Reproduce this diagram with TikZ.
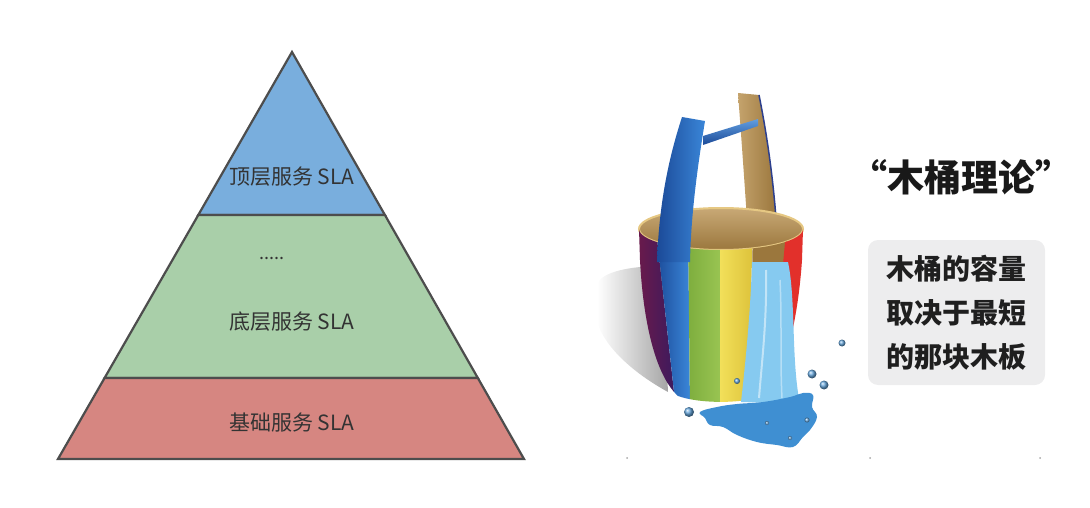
\documentclass[tikz,border=0pt]{standalone}
\usepackage{fontspec}
\newfontfamily\cjk{Noto Sans CJK SC}
\usetikzlibrary{calc}
\definecolor{topblue}{HTML}{79AEDD}
\definecolor{midgreen}{HTML}{A9CFA9}
\definecolor{basered}{HTML}{D68681}
\definecolor{edgegray}{HTML}{4D4D4D}
\definecolor{labelgray}{HTML}{333333}
\definecolor{boxgray}{HTML}{EDEDEE}
\definecolor{woodtan}{HTML}{B68C48}
\definecolor{woodlight}{HTML}{E6C883}
\definecolor{woodedge}{HTML}{2C3F8E}
\definecolor{waterlight}{HTML}{86CAF0}
\definecolor{waterblue}{HTML}{3F8FD2}
\definecolor{stavered}{HTML}{E2302B}
\definecolor{purpleleft}{HTML}{7A1A45}
\definecolor{purpleright}{HTML}{3B1A5E}
\definecolor{blueleft}{HTML}{1B4A98}
\definecolor{blueright}{HTML}{3A86D8}
\definecolor{greenleft}{HTML}{7EAE3E}
\definecolor{greenright}{HTML}{99C452}
\definecolor{yellowleft}{HTML}{F2E05A}
\definecolor{yellowright}{HTML}{DDC23A}
\begin{document}
\begin{tikzpicture}[x=1pt,y=-1pt,
    layer/.style={draw=edgegray,line width=2.2pt},
    lbl/.style={font=\cjk\fontsize{21}{21}\selectfont,text=labelgray},
    bubble/.style={ball color=waterblue!80}]
    \useasboundingbox (0,0) rectangle (1090,508);
    % pyramid
    \coordinate (apex) at (292,52);
    \coordinate (bl) at (58,459);
    \coordinate (br) at (524,459);
    \coordinate (l1) at ($(apex)!0.4005!(bl)$);
    \coordinate (r1) at ($(apex)!0.4005!(br)$);
    \coordinate (l2) at ($(apex)!0.801!(bl)$);
    \coordinate (r2) at ($(apex)!0.801!(br)$);
    \draw[layer,fill=topblue] (apex) -- (r1) -- (l1) -- cycle;
    \draw[layer,fill=midgreen] (l1) -- (r1) -- (r2) -- (l2) -- cycle;
    \draw[layer,fill=basered] (l2) -- (r2) -- (br) -- (bl) -- cycle;
    \node[lbl] (toplbl) at (292,177) {顶层服务 SLA};
    \node[lbl,font=\cjk\fontsize{18}{18}\selectfont] (dots) at (272,258) {.....};
    \node[lbl] (midlbl) at (292,322) {底层服务 SLA};
    \node[lbl] (baselbl) at (292,423) {基础服务 SLA};
    % bucket
    \shade[left color=white,right color=black!35]
        (662,266) .. controls (630,266) and (600,272) .. (597,285) -- (597,322)
        .. controls (605,348) and (635,374) .. (668,392) -- cycle;
    \shade[left color=woodtan!80!white,right color=woodtan!85!black]
        (738,93) -- (759,95) .. controls (768,140) and (773,180) .. (776,220)
        -- (747,220) .. controls (743,160) and (740,120) .. (738,93) -- cycle;
    \draw[woodedge,line width=1.5pt] (759,95) .. controls (768,140) and (773,180) .. (776,218);
    \shade[top color=woodtan!75!white,bottom color=woodtan!85!black,draw=woodlight,line width=2pt]
        (721,229) ellipse [x radius=82,y radius=21];
    \begin{scope}
        \clip (639,229) .. controls (639,240.6) and (675.7,250) .. (721,250)
            .. controls (766.3,250) and (803,240.6) .. (803,229) -- (802,260)
            .. controls (798,320) and (785,375) .. (765,395)
            .. controls (745,404) and (700,404) .. (678,396)
            .. controls (655,375) and (643,320) .. (640,260) -- cycle;
        \shade[left color=purpleleft,right color=purpleright]
            (625,220) -- (655,220) -- (676,410) -- (625,410) -- cycle;
        \shade[left color=blueleft,right color=blueright]
            (655,220) -- (688,220) -- (690,410) -- (676,410) -- cycle;
        \shade[left color=greenleft,right color=greenright]
            (688,220) -- (720,220) -- (720,410) -- (690,410) -- cycle;
        \shade[left color=yellowleft,right color=yellowright]
            (720,220) -- (753,220) -- (748,410) -- (720,410) -- cycle;
        \fill[woodtan!85!black] (753,220) -- (787,220) -- (787,280) -- (752,280) -- cycle;
        \fill[stavered] (787,220) -- (815,220) -- (815,410) -- (770,410) -- cycle;
    \end{scope}
    \shade[top color=blueright!80!white,bottom color=blueleft]
        (703,136) -- (758,119) -- (758,126) -- (703,145) -- cycle;
    \shade[left color=blueleft,right color=blueright]
        (682,117) -- (705,121) .. controls (697,170) and (691,215) .. (690,262)
        -- (657,262) .. controls (659,205) and (668,160) .. (682,117) -- cycle;
    % water
    \fill[waterlight] (752,262) .. controls (751,300) and (747,350) .. (741,402)
        -- (800,404) .. controls (791,360) and (796,300) .. (788,262) -- cycle;
    \draw[white,opacity=0.5,line width=2pt] (766,270) .. controls (767,320) and (762,360) .. (759,398);
    \draw[white,opacity=0.4,line width=1.5pt] (780,280) .. controls (782,320) and (780,360) .. (782,398);
    \fill[waterblue] plot[smooth cycle,tension=0.7] coordinates {(700,412) (717,407) (737,404)
        (763,402) (790,397) (803,393) (813,395) (812,407) (817,417) (810,430) (803,437)
        (793,447) (777,445) (757,442) (737,435) (723,427) (710,425) (705,418)};
    \foreach \bx/\by/\br in {689/412/5,812/374/4.5,824/385/4.5,737/381/3,842/343/3.5,807/420/2.5,767/423/2,790/438/2}
        \shade[bubble] (\bx,\by) circle (\br);
    \foreach \dx in {627,870,1040}
        \fill[gray!70] (\dx,458) circle (1);
    % text
    \node[font=\cjk\bfseries\fontsize{37}{37}\selectfont,text=black!90] (theory) at (961,177) {“木桶理论”};
    \node[fill=boxgray,rounded corners=10pt,minimum width=177,minimum height=145,align=center,
        font=\cjk\bfseries\fontsize{28}{44}\selectfont,text=black!88] (idea) at (956.5,312.5)
        {木桶的容量\\取决于最短\\的那块木板};
\end{tikzpicture}
\end{document}
